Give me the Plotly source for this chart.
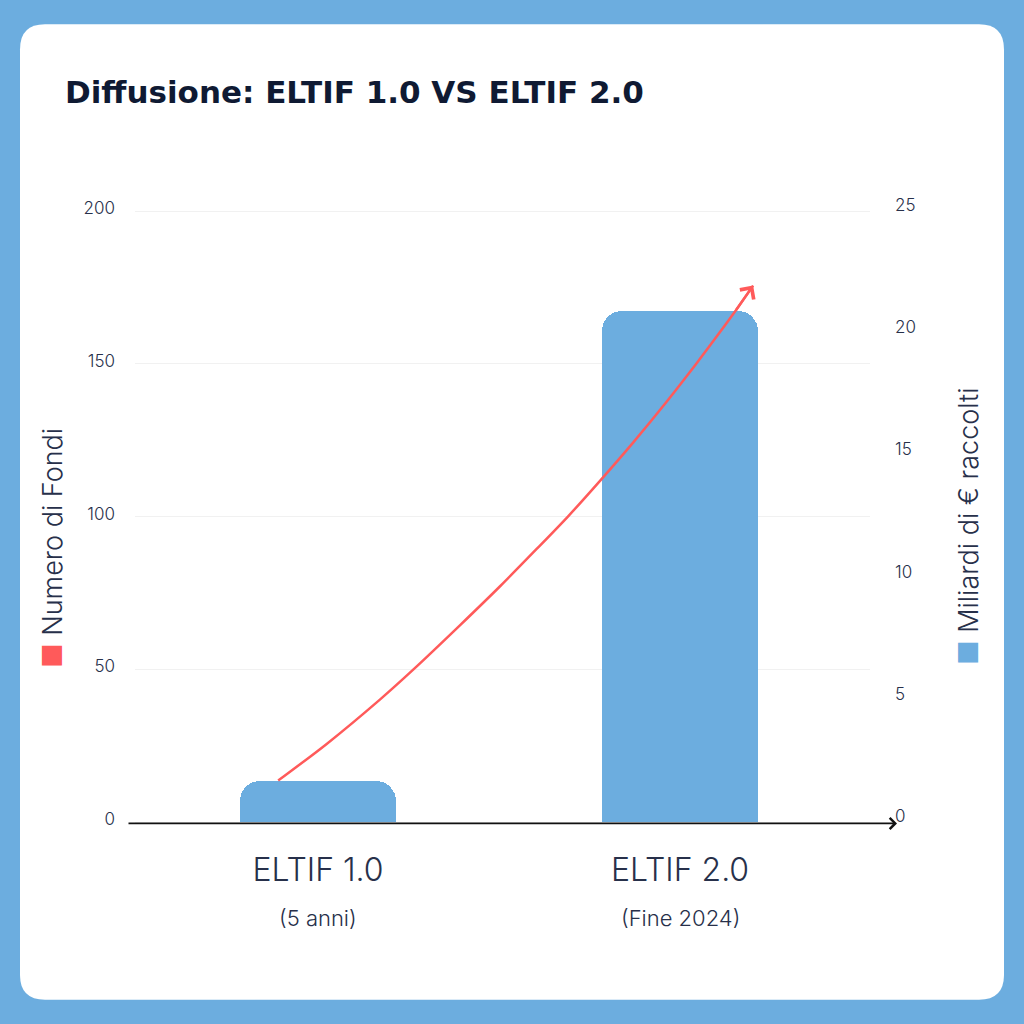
import plotly.graph_objects as go

# ---------------- data ----------------
categories = ["ELTIF 1.0", "ELTIF 2.0"]
subtitles = ["(5 anni)", "(Fine 2024)"]
cat_pos = [0, 1]
miliardi = [1.7, 20.9]           # blue bars, right axis (Miliardi di € raccolti)

# red trend curve (Numero di Fondi, left axis)
curve_x = [-0.110, 0.024, 0.171, 0.263, 0.392, 0.503, 0.604, 0.691,
           0.779, 0.871, 0.963, 1.046, 1.110, 1.152, 1.202]
curve_y = [13.6, 25.6, 40.1, 49.9, 64.4, 77.2, 89.4, 100.1,
           111.7, 124.3, 137.6, 150.2, 160.3, 167.1, 175.6]

left_ticks = [0, 50, 100, 150, 200]
right_ticks = [0, 5, 10, 15, 20, 25]

# ---------------- style ----------------
BLUE = "#6CADDF"
RED = "#FF5A5A"
NAVY = "#0F1A33"
TXT = "#27304A"
FONT = "Inter"

W = H = 1024
L, R = 135, 870
PX_PER_RIGHT = 24.456            # pixels per 1 unit on right axis
RATIO = 8.0                      # left units per right unit
RIGHT_MIN, RIGHT_MAX = -0.2, 25.125
LEFT_MIN, LEFT_MAX = RIGHT_MIN * RATIO, RIGHT_MAX * RATIO
ZERO_PX = 822.2
B = ZERO_PX - RIGHT_MIN * PX_PER_RIGHT
T = ZERO_PX - RIGHT_MAX * PX_PER_RIGHT
pw, ph = R - L, B - T


def px(xp):
    return (xp - L) / pw


def py(yp):
    return (B - yp) / ph


fig = go.Figure()

fig.add_trace(go.Bar(
    x=cat_pos, y=miliardi, yaxis="y", width=0.432,
    marker=dict(color=BLUE, line=dict(width=0), cornerradius=20),
    showlegend=False, hoverinfo="skip",
))

fig.add_trace(go.Scatter(
    x=curve_x, y=curve_y, yaxis="y2", mode="lines",
    line=dict(color=RED, width=2.5, shape="spline", smoothing=0.8),
    showlegend=False, hoverinfo="skip",
))

# card background (rounded white rectangle)
x0, x1 = px(20), px(1004)
y0, y1 = py(1000), py(24)
rx, ry = 25 / pw, 25 / ph
card = (f"M {x0+rx},{y1} L {x1-rx},{y1} Q {x1},{y1} {x1},{y1-ry} "
        f"L {x1},{y0+ry} Q {x1},{y0} {x1-rx},{y0} L {x0+rx},{y0} "
        f"Q {x0},{y0} {x0},{y0+ry} L {x0},{y1-ry} Q {x0},{y1} {x0+rx},{y1} Z")

shapes = [dict(type="path", path=card, xref="paper", yref="paper",
               fillcolor="white", line=dict(width=0), layer="below")]

annotations = []
# title
annotations.append(dict(
    text="<b>Diffusione: ELTIF 1.0 VS ELTIF 2.0</b>", xref="paper", yref="paper",
    x=px(63), y=py(92), xanchor="left", yanchor="middle", showarrow=False,
    font=dict(family="DejaVu Sans", size=31, color=NAVY),
))
# subtitles under categories
for cx, s in zip(cat_pos, subtitles):
    annotations.append(dict(
        text=s, xref="x", yref="paper", x=cx, y=py(918),
        xanchor="center", yanchor="middle", showarrow=False,
        font=dict(family=FONT, size=22, color=TXT, weight=300),
    ))
# axis titles
annotations.append(dict(
    text=f"<span style='color:{RED}'>■</span> Numero di Fondi",
    xref="paper", yref="paper", x=px(52), y=py(548), textangle=-90,
    xanchor="center", yanchor="middle", showarrow=False,
    font=dict(family=FONT, size=27, color=TXT, weight=300),
))
annotations.append(dict(
    text=f"<span style='color:{BLUE}'>■</span> Miliardi di € raccolti",
    xref="paper", yref="paper", x=px(968), y=py(526), textangle=-90,
    xanchor="center", yanchor="middle", showarrow=False,
    font=dict(family=FONT, size=27, color=TXT, weight=300),
))
# bottom axis line with arrow
annotations.append(dict(
    text="", xref="paper", yref="paper", x=px(897), y=py(823.5),
    ax=-(897 - 127), ay=0, showarrow=True, arrowhead=4, arrowsize=1.2,
    arrowwidth=1.8, arrowcolor="#111111", standoff=0,
))
# arrowhead on the red curve
annotations.append(dict(
    text="", xref="x", yref="y2", x=curve_x[-1], y=curve_y[-1],
    axref="x", ayref="y2", ax=curve_x[-2], ay=curve_y[-2],
    showarrow=True, arrowhead=4, arrowsize=1.3, arrowwidth=2.5,
    arrowcolor=RED, standoff=0,
))

fig.update_layout(
    width=W, height=H,
    margin=dict(l=L, r=W - R, t=T, b=H - B, autoexpand=False),
    paper_bgcolor=BLUE, plot_bgcolor="rgba(0,0,0,0)",
    font=dict(family=FONT, color=TXT),
    bargap=0,
    xaxis=dict(
        range=[(L - 318) / 362, (R - 318) / 362],
        tickvals=cat_pos, ticktext=categories,
        tickfont=dict(family=FONT, size=32, color=TXT, weight=300),
        ticks="outside", ticklen=15, tickcolor="rgba(0,0,0,0)",
        showgrid=False, zeroline=False, showline=False, fixedrange=True,
    ),
    yaxis=dict(
        side="right", range=[RIGHT_MIN, RIGHT_MAX], tickvals=right_ticks,
        tickfont=dict(family=FONT, size=17, color=TXT, weight=300),
        ticklabelstandoff=24, ticklabelshift=-6,
        showgrid=False, zeroline=False, showline=False, fixedrange=True,
    ),
    yaxis2=dict(
        side="left", overlaying="y", range=[LEFT_MIN, LEFT_MAX],
        tickvals=left_ticks,
        tickfont=dict(family=FONT, size=17, color=TXT, weight=300),
        ticklabelstandoff=19, ticklabelshift=-3,
        showgrid=True, gridcolor="#F1F1F1", gridwidth=1,
        zeroline=False, showline=False, fixedrange=True,
    ),
    shapes=shapes,
    annotations=annotations,
    showlegend=False,
)

fig.write_html("out.html", config={"displayModeBar": False},
               post_script="document.body.style.margin='0';"
                           "document.body.style.padding='0';")
